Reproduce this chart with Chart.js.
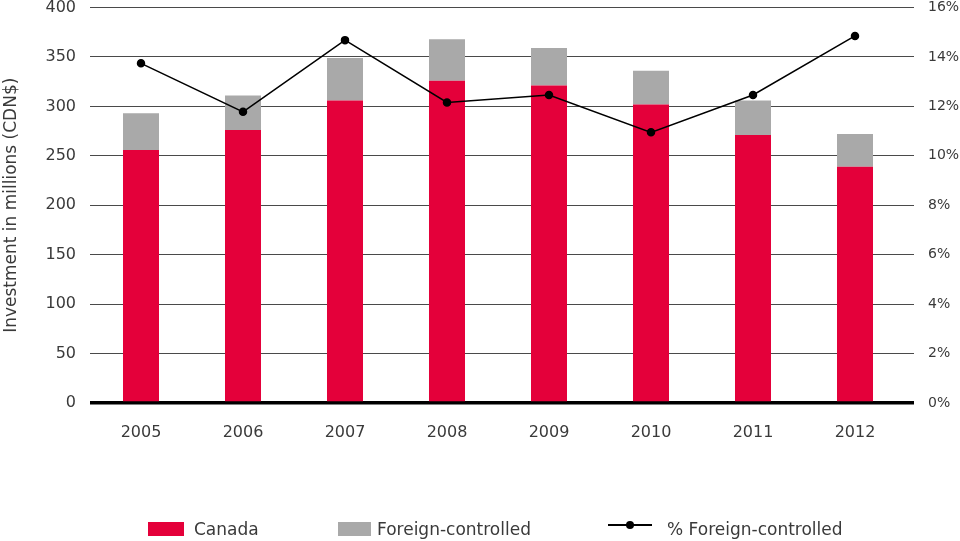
<!DOCTYPE html>
<html>
<head>
<meta charset="utf-8">
<script src="https://cdn.jsdelivr.net/npm/chart.js@4.4.1/dist/chart.umd.min.js"></script>
<style>
  body { margin: 0; background: #fff; }
  #wrap { position: relative; width: 960px; height: 541px; }
  .legend { position: absolute; left: 0; top: 519px; width: 960px; height: 20px;
            font: 17px 'DejaVu Sans', sans-serif; color: #3a3a3a; }
  .item { position: absolute; top: 0; height: 20px; display: flex; align-items: center; white-space: nowrap; }
  .swatch { height: 14px; }
  .lineKey { position: relative; width: 44px; height: 2px; background: #000; margin-right: 15px; margin-bottom: 8px; }
  .lineKey span { position: absolute; left: 18px; top: -3px; width: 8px; height: 8px; border-radius: 50%; background: #000; }
</style>
</head>
<body>
<div id="wrap">
  <canvas id="investChart" width="960" height="541"></canvas>
  <div class="legend">
    <div class="item" style="left:148px"><div class="swatch" style="width:36px;background:#e4003a;margin-right:10px"></div>Canada</div>
    <div class="item" style="left:338px"><div class="swatch" style="width:33px;background:#a9a9a9;margin-right:6px"></div>Foreign-controlled</div>
    <div class="item" style="left:608px"><div class="lineKey"><span></span></div>% Foreign-controlled</div>
  </div>
</div>
<script>
const years = ['2005', '2006', '2007', '2008', '2009', '2010', '2011', '2012'];
const canada = [256, 276, 306, 326, 321, 302, 271, 239];
const foreign = [37, 35, 43, 42, 38, 34, 35, 33];
const foreignPct = [13.74, 11.78, 14.68, 12.16, 12.46, 10.95, 12.46, 14.85];

Chart.defaults.font.family = "'DejaVu Sans', sans-serif";
Chart.defaults.color = '#3a3a3a';

// grid: thin dark lines, heavy black baseline
const gridColor = ctx => ctx.tick && ctx.tick.value === 0 ? '#000' : '#4a4a4a';
const gridWidth = ctx => ctx.tick && ctx.tick.value === 0 ? 3.5 : 1;

// the tick padding would otherwise push the plot top down
const noVertPad = w => s => { s.width = w; s.paddingTop = 0; s.paddingBottom = 0; };

new Chart(document.getElementById('investChart'), {
    data: {
        labels: years,
        datasets: [
            {
                type: 'line',
                label: '% Foreign-controlled',
                data: foreignPct,
                yAxisID: 'y1',
                borderColor: '#000',
                backgroundColor: '#000',
                borderWidth: 1.5,
                pointRadius: 3.5,
                tension: 0,
                order: 0
            },
            {
                type: 'bar',
                label: 'Canada',
                data: canada,
                backgroundColor: '#e4003a',
                barPercentage: 0.353,
                categoryPercentage: 1,
                order: 1
            },
            {
                type: 'bar',
                label: 'Foreign-controlled',
                data: foreign,
                backgroundColor: '#a9a9a9',
                barPercentage: 0.353,
                categoryPercentage: 1,
                order: 1
            }
        ]
    },
    options: {
        responsive: false,
        animation: false,
        layout: { autoPadding: false, padding: { top: 7.5, left: 0, right: 0, bottom: 0 } },
        plugins: { legend: { display: false }, tooltip: { enabled: false } },
        scales: {
            x: {
                stacked: true,
                grid: { display: false, drawTicks: false },
                border: { display: false },
                ticks: { padding: 20, font: { size: 16 } },
                afterFit: s => { s.height = 138; }
            },
            y: {
                stacked: true,
                min: 0,
                max: 400,
                ticks: { stepSize: 50, padding: 14, font: { size: 16 } },
                grid: { color: gridColor, lineWidth: gridWidth, drawTicks: false },
                border: { display: false },
                title: {
                    display: true,
                    text: 'Investment in millions (CDN$)',
                    font: { size: 17 },
                    padding: { top: 1, bottom: 0 }
                },
                afterFit: noVertPad(90)
            },
            y1: {
                position: 'right',
                min: 0,
                max: 16,
                ticks: { stepSize: 2, padding: 14, font: { size: 14 }, callback: v => v + '%' },
                grid: { drawOnChartArea: false, drawTicks: true, tickLength: 8, color: gridColor, lineWidth: gridWidth },
                border: { display: false },
                afterFit: noVertPad(54)
            }
        }
    }
});
</script>
</body>
</html>
